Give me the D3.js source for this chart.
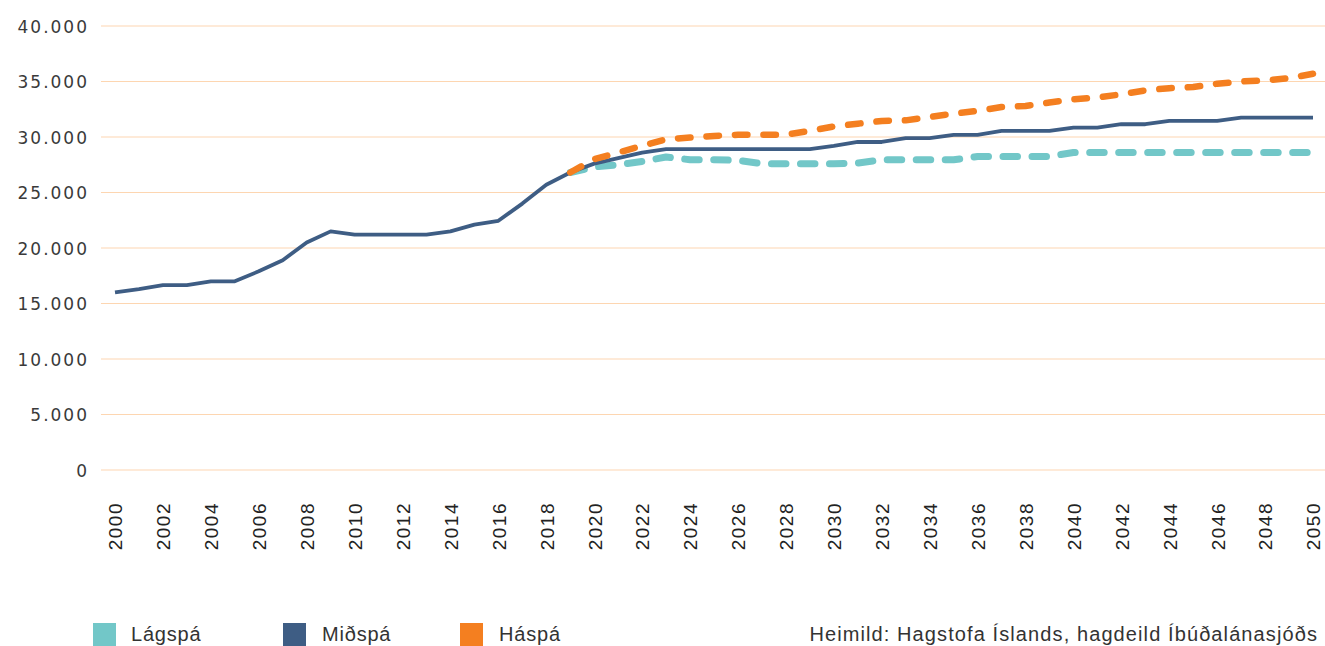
<!DOCTYPE html>
<html>
<head>
<meta charset="utf-8">
<script src="https://cdn.jsdelivr.net/npm/d3@7"></script>
<style>
  html, body { margin: 0; padding: 0; background: #fff; }
  svg { display: block; }
</style>
</head>
<body>
<svg id="chart" width="1325" height="646"></svg>
<script>
// Years on the horizontal axis
const years = d3.range(2000, 2051);
const forecastYears = d3.range(2019, 2051);

// Miðspá: history plus middle forecast
const midValues = [
  16000, 16300, 16650, 16650, 17000, 17000, 17900, 18900, 20500, 21500,
  21200, 21200, 21200, 21200, 21500, 22100, 22450, 24000, 25700, 26800,
  27600, 28100, 28600, 28900, 28900, 28900, 28900, 28900, 28900, 28900,
  29200, 29550, 29550, 29900, 29900, 30200, 30200, 30550, 30550, 30550,
  30850, 30850, 31150, 31150, 31450, 31450, 31450, 31750, 31750, 31750,
  31750
];

// Háspá: high forecast, 2019–2050
const highValues = [
  26800, 28000, 28600, 29200, 29800, 29950, 30100, 30200, 30200, 30200,
  30550, 30950, 31200, 31450, 31500, 31800, 32100, 32350, 32700, 32800,
  33100, 33400, 33550, 33850, 34200, 34400, 34500, 34800, 35000, 35100,
  35300, 35700
];

// Lágspá: low forecast, 2019–2050
const lowValues = [
  26800, 27300, 27500, 27800, 28200, 27950, 27950, 27900, 27600, 27600,
  27600, 27600, 27650, 27950, 27950, 27950, 27950, 28250, 28250, 28250,
  28250, 28600, 28600, 28600, 28600, 28600, 28600, 28600, 28600, 28600,
  28600, 28600
];

const yTicks = [0, 5000, 10000, 15000, 20000, 25000, 30000, 35000, 40000];
const xTicks = d3.range(2000, 2051, 2);

const legendLabels = ["Lágspá", "Miðspá", "Háspá"];
const legendColors = ["#72c7c8", "#3e5d84", "#f47f20"];
const sourceText = "Heimild: Hagstofa Íslands, hagdeild Íbúðalánasjóðs";

const svg = d3.select("#chart");

const x = d3.scaleLinear().domain([2000, 2050]).range([115, 1313]);
const y = d3.scaleLinear().domain([0, 40000]).range([470, 26]);

// Value labels on the left
const yAxis = d3.axisLeft(y)
  .tickValues(yTicks)
  .tickSize(0)
  .tickFormat(d => d3.format(",")(d).replace(/,/g, "."));

const gy = svg.append("g").attr("transform", "translate(89,0)").call(yAxis);
gy.select(".domain").remove();
gy.selectAll("text")
  .attr("x", 0)
  .attr("dy", "0.36em")
  .attr("fill", "#3a3a3a")
  .style("font-family", "'DejaVu Sans', sans-serif")
  .style("font-size", "17px")
  .style("letter-spacing", "2px");

// Horizontal gridlines
svg.append("g")
  .selectAll("line")
  .data(yTicks)
  .join("line")
  .attr("x1", 101)
  .attr("x2", 1325)
  .attr("y1", d => y(d))
  .attr("y2", d => y(d))
  .attr("stroke", "#fdd6b1")
  .attr("stroke-width", 1.2);

// Rotated year labels
const xAxis = d3.axisBottom(x).tickValues(xTicks).tickSize(0).tickFormat(d3.format("d"));
const gx = svg.append("g").attr("transform", "translate(0,502)").call(xAxis);
gx.select(".domain").remove();
gx.selectAll("text")
  .attr("transform", "rotate(-90)")
  .attr("x", 0)
  .attr("y", 0)
  .attr("dy", "0.36em")
  .attr("text-anchor", "end")
  .attr("fill", "#222")
  .style("font-family", "'Liberation Sans', Arial, sans-serif")
  .style("font-size", "19px")
  .style("letter-spacing", "1.5px");

// Lines
const line = d3.line().x(d => x(d[0])).y(d => y(d[1]));

const lowData = forecastYears.map((yr, i) => [yr, lowValues[i]]);
const midData = years.map((yr, i) => [yr, midValues[i]]);
const highData = forecastYears.map((yr, i) => [yr, highValues[i]]);

svg.append("path")
  .datum(lowData)
  .attr("d", line)
  .attr("fill", "none")
  .attr("stroke", legendColors[0])
  .attr("stroke-width", 7)
  .attr("stroke-linecap", "round")
  .attr("stroke-linejoin", "round")
  .attr("stroke-dasharray", "14.5,14.5");

svg.append("path")
  .datum(midData)
  .attr("d", line)
  .attr("fill", "none")
  .attr("stroke", legendColors[1])
  .attr("stroke-width", 3.8)
  .attr("stroke-linejoin", "round");

svg.append("path")
  .datum(highData)
  .attr("d", line)
  .attr("fill", "none")
  .attr("stroke", legendColors[2])
  .attr("stroke-width", 6.5)
  .attr("stroke-linecap", "round")
  .attr("stroke-linejoin", "round")
  .attr("stroke-dasharray", "12.5,16");

// Legend
const legendX = [93, 283, 460];
const legend = svg.append("g")
  .selectAll("g")
  .data(legendLabels)
  .join("g")
  .attr("transform", (d, i) => `translate(${legendX[i]},623)`);

legend.append("rect")
  .attr("width", 23)
  .attr("height", 23)
  .attr("fill", (d, i) => legendColors[i]);

legend.append("text")
  .attr("x", (d, i) => [38, 39, 39][i])
  .attr("y", 18)
  .attr("fill", "#333")
  .style("font-family", "'Liberation Sans', Arial, sans-serif")
  .style("font-size", "20px")
  .style("letter-spacing", "0.8px")
  .text(d => d);

// Source note
svg.append("text")
  .attr("x", 1318)
  .attr("y", 641)
  .attr("text-anchor", "end")
  .attr("fill", "#333")
  .style("font-family", "'Liberation Sans', Arial, sans-serif")
  .style("font-size", "20px")
  .style("letter-spacing", "1.1px")
  .text(sourceText);
</script>
</body>
</html>
